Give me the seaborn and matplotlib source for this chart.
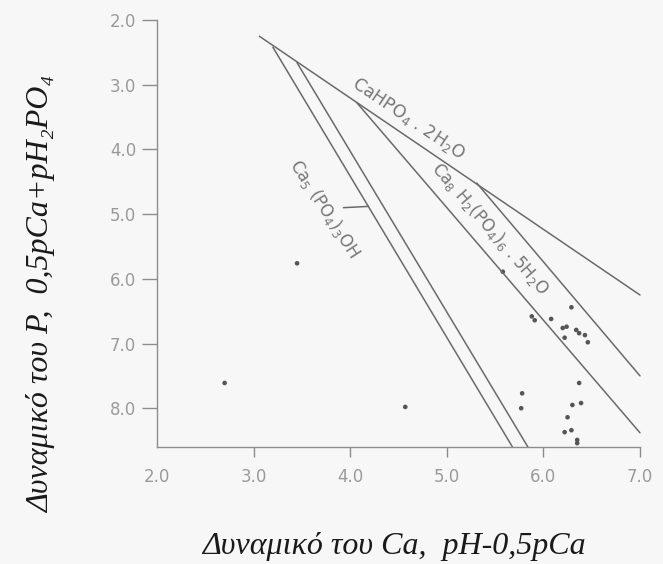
import numpy as np
import pandas as pd
import seaborn as sns
import matplotlib.pyplot as plt

# solubility lines (endpoints)
dcpd_x = [3.06, 7.0]
dcpd_y = [2.25, 6.25]
ha1_x = [3.20, 5.68]
ha1_y = [2.42, 8.6]
ha2_x = [3.45, 5.84]
ha2_y = [2.66, 8.6]
ocp1_x = [4.07, 7.0]
ocp1_y = [3.28, 8.38]
ocp2_x = [5.31, 7.0]
ocp2_y = [4.52, 7.50]
stub_x = [3.93, 4.19]
stub_y = [4.90, 4.88]

# sample points
pts_x = [2.70, 3.45, 4.57, 5.58, 5.77, 5.78, 6.29, 5.88, 5.91, 6.08, 6.20, 6.24,
         6.34, 6.37, 6.43, 6.46, 6.22, 6.37, 6.30, 6.39, 6.25, 6.22, 6.29, 6.35, 6.35]
pts_y = [7.61, 5.76, 7.98, 5.89, 8.00, 7.77, 6.44, 6.58, 6.64, 6.62, 6.76, 6.74,
         6.79, 6.84, 6.87, 6.98, 6.91, 7.61, 7.95, 7.92, 8.14, 8.37, 8.34, 8.49, 8.54]

x_ticks = [2.0, 3.0, 4.0, 5.0, 6.0, 7.0]
y_ticks = [2.0, 3.0, 4.0, 5.0, 6.0, 7.0, 8.0]

sns.set_style('ticks')
plt.rcParams['font.family'] = ['DejaVu Sans']
plt.rcParams['mathtext.default'] = 'regular'

bg = '#f7f7f7'
line_col = '#6a6a6a'
axis_col = '#8c8c8c'
tick_col = '#9a9a9a'

fig = plt.figure(figsize=(6.63, 5.64), dpi=100, facecolor=bg)
ax = fig.add_axes([0.2368, 0.2074, 0.7285, 0.757])
ax.set_facecolor(bg)

lines = pd.concat([
    pd.DataFrame({'x': dcpd_x, 'y': dcpd_y, 'phase': 'dcpd'}),
    pd.DataFrame({'x': ha1_x, 'y': ha1_y, 'phase': 'ha1'}),
    pd.DataFrame({'x': ha2_x, 'y': ha2_y, 'phase': 'ha2'}),
    pd.DataFrame({'x': ocp1_x, 'y': ocp1_y, 'phase': 'ocp1'}),
    pd.DataFrame({'x': ocp2_x, 'y': ocp2_y, 'phase': 'ocp2'}),
    pd.DataFrame({'x': stub_x, 'y': stub_y, 'phase': 'stub'}),
])
for name, grp in lines.groupby('phase'):
    sns.lineplot(data=grp, x='x', y='y', ax=ax, color=line_col, lw=1.1,
                 sort=False, estimator=None, clip_on=False)

pts = pd.DataFrame({'x': pts_x, 'y': pts_y})
sns.scatterplot(data=pts, x='x', y='y', ax=ax, color='#555555', s=11,
                edgecolor='none', clip_on=False)

ax.text(4.60, 3.53, r'CaHPO$_4$ . 2H$_2$O', rotation=-34, ha='center', va='center',
        fontsize=12.5, color='#777777')
ax.text(5.45, 5.22, r'Ca$_8$ H$_2$(PO$_4$)$_6$ . 5H$_2$O', rotation=-49, ha='center',
        va='center', fontsize=12, color='#777777')
ax.text(3.74, 4.92, r'Ca$_5$ (PO$_4$)$_3$OH', rotation=-57, ha='center', va='center',
        fontsize=12, color='#777777')

ax.set_xlim(2.0, 7.0)
ax.set_ylim(8.6, 2.0)
ax.set_xticks(x_ticks)
ax.set_xticklabels([f'{v:.1f}' for v in x_ticks])
ax.set_yticks(y_ticks)
ax.set_yticklabels([f'{v:.1f}' for v in y_ticks])
ax.tick_params(axis='x', colors=axis_col, labelcolor=tick_col, labelsize=12, length=7, pad=8, width=1)
ax.tick_params(axis='y', colors=axis_col, labelcolor=tick_col, labelsize=12, length=11, pad=4, width=1)
ax.xaxis.get_major_ticks()[0].tick1line.set_visible(False)

sns.despine(ax=ax)
for s in ['left', 'bottom']:
    ax.spines[s].set_color(axis_col)
    ax.spines[s].set_linewidth(1.0)

lab_font = dict(family=['Liberation Serif', 'DejaVu Serif'], style='italic', size=23, color='#1a1a1a')
ax.set_xlabel('Δυναμικό του Ca,  pH-0,5pCa', **lab_font)
ax.set_ylabel('Δυναμικό του P,  0,5pCa+pH₂PO₄', **lab_font)
ax.xaxis.set_label_coords(0.49, -0.232)
ax.xaxis.label.set_va('center')
ax.yaxis.set_label_coords(-0.238, 0.358)
ax.yaxis.label.set_va('center')

fig.savefig('out.png', dpi=100, facecolor=bg)
